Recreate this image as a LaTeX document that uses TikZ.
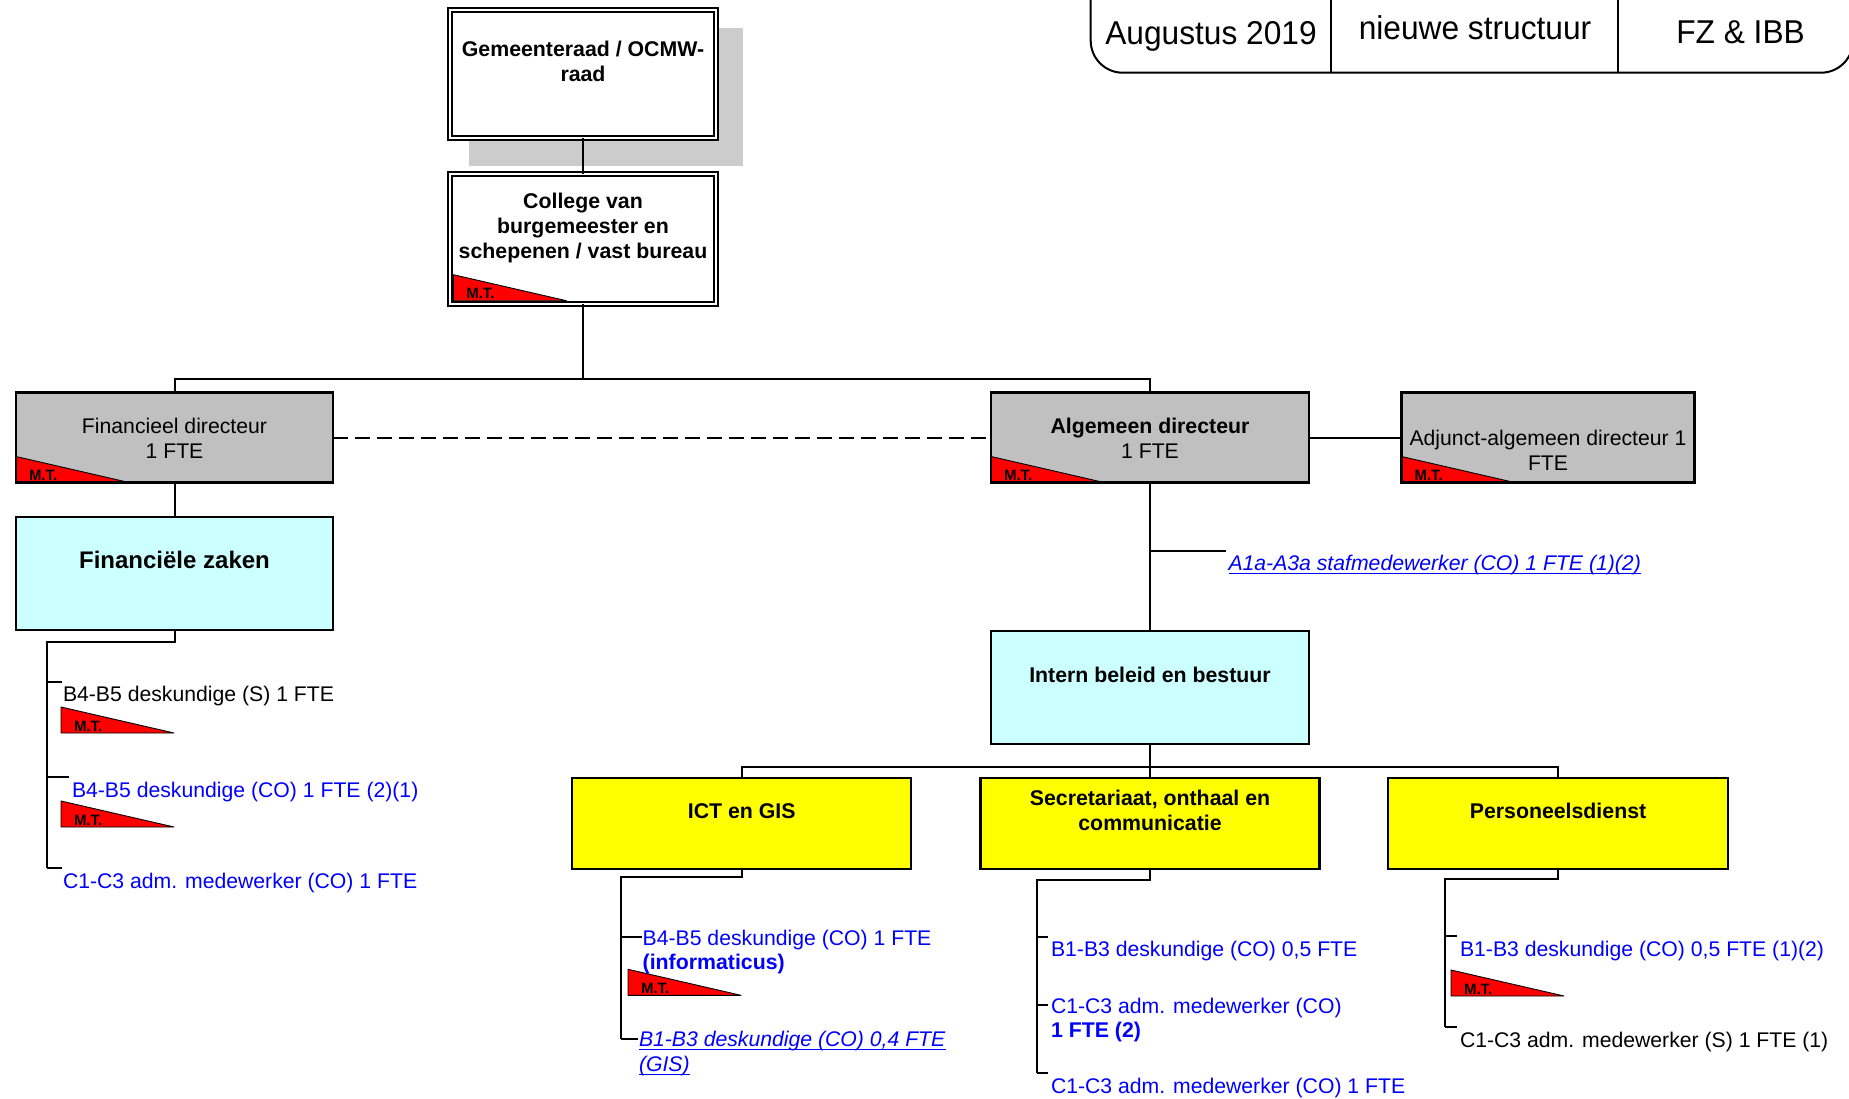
\documentclass[tikz,border=0pt]{standalone}
\usepackage{fontspec}
\setmainfont{Liberation Sans}
\usepackage{graphicx}
\newcommand{\ulthick}[1]{\setbox0\hbox{#1}\leavevmode\rlap{\rule[-3.2pt]{\wd0}{1.4pt}}\box0}
\definecolor{boxgray}{RGB}{192,192,192}
\definecolor{shadowgray}{RGB}{204,204,204}
\definecolor{lcyan}{RGB}{204,255,255}
\definecolor{yel}{RGB}{255,255,0}
\definecolor{tblue}{RGB}{0,0,255}
\definecolor{mtred}{RGB}{255,0,0}
\newcommand{\mtmark}[2]{%
  \filldraw[fill=mtred, draw=black, line width=0.9pt, line join=round] (#1) -- ++(0,-26) -- ++(113,26) -- cycle;
  \node[mtlabel] (#2) at ([shift={(13,-2)}]#1) {M.T.};
}
\begin{document}
\begin{tikzpicture}[x=1pt,y=-1pt,
  conn/.style={line width=2pt, draw=black},
  box/.style={rectangle, draw=black, line width=2.2pt, inner sep=0pt, outer sep=0pt},
  dbox/.style={rectangle, draw=black, line width=1.9pt, double=white, double distance=2.6pt, inner sep=0pt, outer sep=0pt, fill=white},
  txt/.style={inner sep=0pt, outer sep=0pt, font=\fontsize{21.2}{25}\selectfont},
  btxt/.style={inner sep=0pt, outer sep=0pt, font=\fontsize{21.3}{25}\bfseries\selectfont},
  lbl/.style={txt, anchor=base west},
  blbl/.style={btxt, anchor=base west},
  ctr/.style={txt, anchor=base},
  bctr/.style={btxt, anchor=base},
  hdrtxt/.style={inner sep=0pt, outer sep=0pt, anchor=base, font=\fontsize{33}{38}\selectfont},
  mtlabel/.style={inner sep=0pt, outer sep=0pt, anchor=base west, font=\fontsize{15}{17}\bfseries\selectfont},
  rim/.style={draw=black, line width=2.2pt}
]
\useasboundingbox (0,0) rectangle (1849,1099);
\fill[white] (0,0) rectangle (1849,1099);

% ---------- header ----------
\draw[line width=2pt, rounded corners=32] (1090.7,-10) -- (1090.7,72.7) -- (1853,72.7) -- (1853,-10);
\draw[line width=2pt] (1331,0) -- (1331,72.7);
\draw[line width=2pt] (1618,0) -- (1618,72.7);
\node[hdrtxt] (h1) at (1211,45) {\scalebox{0.96}[1]{Augustus 2019}};
\node[hdrtxt] (h2) at (1475,40) {\scalebox{0.96}[1]{nieuwe structuur}};
\node[hdrtxt] (h3) at (1740.5,43.5) {\scalebox{0.96}[1]{FZ \& IBB}};

% ---------- shadow ----------
\fill[shadowgray] (469,28) rectangle (743,166);

% ---------- boxes ----------
\node[dbox, minimum width=266pt, minimum height=128pt] (gr) at (583,74) {};
\node[dbox, minimum width=266pt, minimum height=130pt] (col) at (583,239) {};
\node[box, fill=boxgray, minimum width=317pt, minimum height=90pt] (fd) at (174.5,437.5) {};
\node[box, fill=boxgray, minimum width=318pt, minimum height=90pt] (ad) at (1150,437.5) {};
\node[box, fill=boxgray, minimum width=293pt, minimum height=90pt] (adj) at (1548,437.5) {};
\node[box, fill=lcyan, minimum width=317pt, minimum height=113pt] (fz) at (174.5,573.5) {};
\node[box, fill=lcyan, minimum width=318pt, minimum height=113pt] (ib) at (1150,687.5) {};
\node[box, fill=yel, minimum width=339pt, minimum height=91pt] (ict) at (741.7,823.5) {};
\node[box, fill=yel, minimum width=339pt, minimum height=91pt] (sec) at (1150,823.5) {};
\node[box, fill=yel, minimum width=340pt, minimum height=91pt] (pd) at (1558,823.5) {};

% ---------- M.T. marks inside boxes ----------
\coordinate (colmt) at (453.3,300.7);
\mtmark{colmt}{mtcol}
\mtmark{fd.south west}{mtfd}
\mtmark{ad.south west}{mtad}
\mtmark{adj.south west}{mtadj}
\draw[rim] (fd.south west) rectangle (fd.north east);
\draw[rim] (ad.south west) rectangle (ad.north east);
\draw[rim] (adj.south west) rectangle (adj.north east);

% ---------- connectors ----------
\coordinate (bus1) at (583,378.5);
\draw[conn] (gr.south) -- (col.north);
\draw[conn] (col.south) -- (bus1);
\draw[conn] (fd.north) -- (fd.north |- bus1) -- (ad.north |- bus1) -- (ad.north);
\draw[conn, dash pattern=on 15pt off 7pt] (fd.east) -- (ad.west);
\draw[conn] (ad.east) -- (adj.west);
\draw[conn] (fd.south) -- (fz.north);
\draw[conn] (ad.south) -- (ib.north);
\coordinate (a1tick) at (1226,551);
\draw[conn] (ad.south |- a1tick) -- (a1tick);
\coordinate (bus2) at (1150,766.5);
\draw[conn] (ib.south) -- (bus2);
\draw[conn] (ict.north) -- (ict.north |- bus2) -- (pd.north |- bus2) -- (pd.north);
\draw[conn] (sec.north) -- (bus2);

% Financiele zaken spine
\coordinate (fzs) at (46.7,641.7);
\coordinate (fze) at (46.7,868);
\coordinate (fzk1) at (61.7,681.7);
\coordinate (fzk2) at (69,777);
\coordinate (fzk3) at (61.7,868);
\draw[conn] (fz.south) |- (fzs) -- (fze);
\draw[conn] (fzk1 -| fzs) -- (fzk1);
\draw[conn] (fzk2 -| fzs) -- (fzk2);
\draw[conn] (fzk3 -| fzs) -- (fzk3);

% ICT spine
\coordinate (icts) at (621,877.3);
\coordinate (icte) at (621,1039);
\coordinate (ictk1) at (641.7,936.7);
\coordinate (ictk2) at (638,1039);
\draw[conn] (ict.south) |- (icts) -- (icte);
\draw[conn] (ictk1 -| icts) -- (ictk1);
\draw[conn] (ictk2 -| icts) -- (ictk2);

% Secretariaat spine
\coordinate (secs) at (1036.7,880);
\coordinate (sece) at (1036.7,1073.3);
\coordinate (seck1) at (1048,936.7);
\coordinate (seck2) at (1048,1005);
\coordinate (seck3) at (1048,1073.3);
\draw[conn] (sec.south) |- (secs) -- (sece);
\draw[conn] (seck1 -| secs) -- (seck1);
\draw[conn] (seck2 -| secs) -- (seck2);
\draw[conn] (seck3 -| secs) -- (seck3);

% Personeelsdienst spine
\coordinate (pds) at (1445,879.3);
\coordinate (pde) at (1445,1026.7);
\coordinate (pdk1) at (1456.7,936);
\coordinate (pdk2) at (1456.7,1026.7);
\draw[conn] (pd.south) |- (pds) -- (pde);
\draw[conn] (pdk1 -| pds) -- (pdk1);
\draw[conn] (pdk2 -| pds) -- (pdk2);

% ---------- standalone M.T. marks ----------
\coordinate (mtp1) at (61,733);
\coordinate (mtp2) at (61,827);
\coordinate (mtp3) at (628,995.3);
\coordinate (mtp4) at (1451,996);
\mtmark{mtp1}{mtf1}
\mtmark{mtp2}{mtf2}
\mtmark{mtp3}{mti1}
\mtmark{mtp4}{mtp}

% ---------- box texts ----------
\node[bctr] (gr1) at (583,56.7) {Gemeenteraad / OCMW-};
\node[bctr] (gr2) at (583,81.7) {raad};
\node[bctr] (col1) at (583,208.3) {College van};
\node[bctr] (col2) at (583,233.3) {burgemeester en};
\node[bctr] (col3) at (583,258.5) {schepenen / vast bureau};
\node[ctr] (fd1) at (174.5,433.3) {Financieel directeur};
\node[ctr] (fd2) at (174.5,458.3) {1 FTE};
\node[bctr] (ad1) at (1150,433) {Algemeen directeur};
\node[ctr] (ad2) at (1150,458) {1 FTE};
\node[ctr] (adj1) at (1548,445.7) {Adjunct-algemeen directeur 1};
\node[ctr] (adj2) at (1548,470.7) {FTE};
\node[inner sep=0pt, anchor=base, font=\fontsize{24}{28}\bfseries\selectfont] (fz1) at (174.5,568.6) {Financiële zaken};
\node[bctr] (ib1) at (1150,682) {Intern beleid en bestuur};
\node[bctr] (ict1) at (741.7,818.3) {ICT en GIS};
\node[bctr] (sec1) at (1150,805) {Secretariaat, onthaal en};
\node[bctr] (sec2) at (1150,830.5) {communicatie};
\node[bctr] (pd1) at (1558,818.3) {Personeelsdienst};

% ---------- staff labels ----------
\node[lbl, text=tblue] (a1) at (1228.5,570.7) {\ulthick{\textit{A1a-A3a stafmedewerker (CO) 1 FTE (1)(2)}}};

\node[lbl] (fzt1) at (63,701.7) {B4-B5 deskundige (S) 1 FTE};
\node[lbl, text=tblue] (fzt2) at (72,797.3) {B4-B5 deskundige (CO) 1 FTE (2)(1)};
\node[lbl, text=tblue] (fzt3) at (63,888.3) {C1-C3 adm. medewerker (CO) 1 FTE};

\node[lbl, text=tblue] (ictt1) at (642.7,945) {B4-B5 deskundige (CO) 1 FTE};
\node[blbl, text=tblue] (ictt1b) at (642.7,969.5) {(informaticus)};
\node[lbl, text=tblue] (ictt2) at (639,1046.7) {\ulthick{\textit{B1-B3 deskundige (CO) 0,4 FTE}}};
\node[lbl, text=tblue] (ictt2b) at (639,1071.7) {\ulthick{\textit{(GIS)}}};

\node[lbl, text=tblue] (sect1) at (1051,956.7) {B1-B3 deskundige (CO) 0,5 FTE};
\node[lbl, text=tblue] (sect2) at (1051,1013.3) {C1-C3 adm. medewerker (CO)};
\node[blbl, text=tblue] (sect2b) at (1051,1037.7) {1 FTE (2)};
\node[lbl, text=tblue] (sect3) at (1051,1093.3) {C1-C3 adm. medewerker (CO) 1 FTE};

\node[lbl, text=tblue] (pdt1) at (1460,956.7) {B1-B3 deskundige (CO) 0,5 FTE (1)(2)};
\node[lbl] (pdt2) at (1460,1047.7) {C1-C3 adm. medewerker (S) 1 FTE (1)};
\end{tikzpicture}
\end{document}
